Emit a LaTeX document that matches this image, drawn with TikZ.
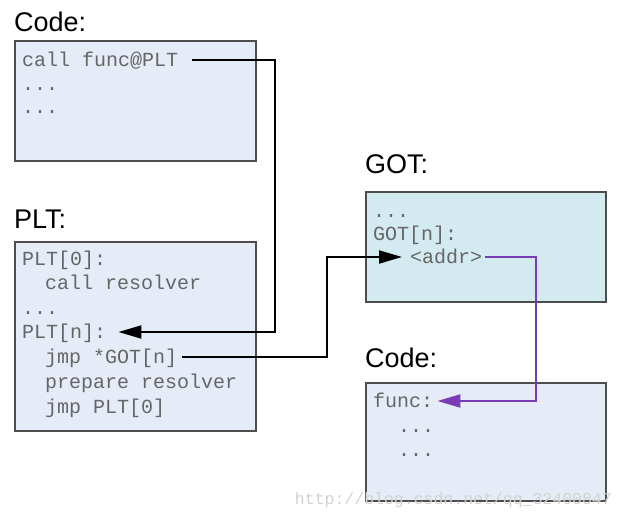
\documentclass[tikz,border=0pt]{standalone}
\usepackage{fontspec}
\setmainfont{Liberation Sans}
\setmonofont{Liberation Mono}
\usetikzlibrary{arrows.meta}
\definecolor{codefill}{HTML}{E6ECF7}
\definecolor{gotfill}{HTML}{D3EAF0}
\definecolor{boxline}{HTML}{4D4D4D}
\definecolor{codetext}{HTML}{666666}
\definecolor{callpurple}{HTML}{7A3CB4}
\begin{document}
\begin{tikzpicture}[x=1pt, y=-1pt,
    box/.style={draw=boxline, line width=1.5pt, fill=codefill, anchor=north west, inner sep=0, minimum width=241pt},
    ttl/.style={anchor=base west, inner sep=0, font=\fontsize{27}{30}\selectfont},
    ln/.style={anchor=base west, inner sep=0, text height=12pt, text depth=0pt, text=codetext, font=\ttfamily\fontsize{20}{24}\selectfont},
    link/.style={line width=2pt, -{Triangle[length=23pt,width=13pt]}}]
            \useasboundingbox (0,0) rectangle (624,520);

            \node[ttl] (codettl) at (14,31) {Code:};
            \node[box, minimum height=120pt] (codebox) at (14,40) {};
            \node[ln] (call) at (22,66) {call func@PLT};
            \node[ln] (cdots1) at (22,90) {...};
            \node[ln] (cdots2) at (22,113) {...};

            \node[ttl] (pltttl) at (14,228) {PLT:};
            \node[box, minimum height=189pt] (pltbox) at (14,241) {};
            \node[ln] (plt0) at (22,265) {PLT[0]:};
            \node[ln] (callres) at (45,289) {call resolver};
            \node[ln] (pdots) at (22,314) {...};
            \node[ln] (pltn) at (22,338) {PLT[n]:};
            \node[ln] (jmpgot) at (45,363) {jmp *GOT[n]};
            \node[ln] (prep) at (45,388) {prepare resolver};
            \node[ln] (jmpplt) at (45,413) {jmp PLT[0]};

            \node[ttl] (gotttl) at (365,173) {GOT:};
            \node[box, fill=gotfill, minimum width=240pt, minimum height=110pt] (gotbox) at (365,191) {};
            \node[ln] (gdots) at (373,217) {...};
            \node[ln] (gotn) at (373,240) {GOT[n]:};
            \node[ln] (addr) at (410,263) {<addr>};

            \node[ttl] (functtl) at (365,367) {Code:};
            \node[box, minimum width=240pt, minimum height=118pt] (funcbox) at (365,382) {};
            \node[ln] (func) at (373,407) {func:};
            \node[ln] (fdots1) at (398,432) {...};
            \node[ln] (fdots2) at (398,456) {...};

            \coordinate (turn1) at (275,200);
            \coordinate (turn2) at (327,300);
            \coordinate (turn3) at (536,330);

            \draw[link, shorten <=14pt, shorten >=12pt] (call.east) -| (turn1) |- (pltn.east);
            \draw[link, shorten <=5pt, shorten >=8pt] (jmpgot.east) -| (turn2) |- (addr.west);
            \draw[link, draw=callpurple, shorten <=3pt, shorten >=4pt] (addr.east) -| (turn3) |- (func.east);

            \node[anchor=base east, inner sep=0, text=gray!35, font=\ttfamily\fontsize{16.5}{18}\selectfont] (mark) at (612,504) {http://blog.csdn.net/qq\_32400847};
        \end{tikzpicture}
\end{document}
